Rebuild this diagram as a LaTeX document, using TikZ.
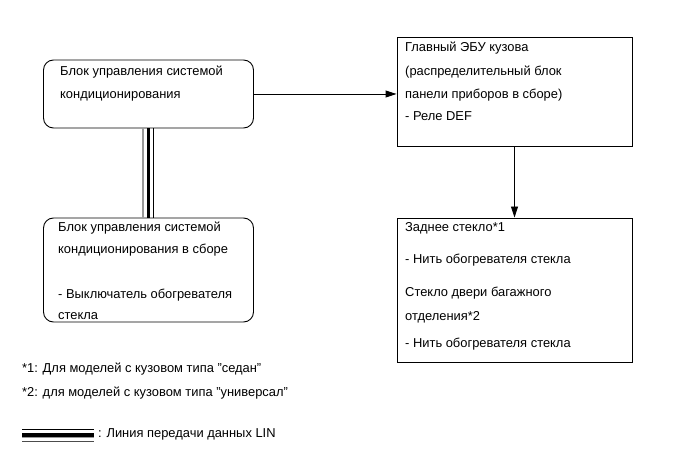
\documentclass[tikz,border=0pt]{standalone}
\usepackage{fontspec}
\setmainfont[Ligatures=NoCommon]{Liberation Sans}
\usetikzlibrary{arrows.meta}
\newcommand{\qq}{\symbol{34}}
\begin{document}
\begin{tikzpicture}[x=1bp,y=-1bp,
  box/.style={draw=black,line width=0.9bp,inner sep=0pt},
  rbox/.style={box,rounded corners=10bp},
  txt/.style={anchor=base west,inner sep=0pt,font=\fontsize{12.9bp}{15bp}\selectfont},
  arr/.style={line width=0.9bp,-{Triangle[length=11bp,width=7bp]}},
  linthin/.style={line width=1bp,black},
  linthick/.style={line width=3.5bp,black},
  lingray/.style={line width=2bp,black!40}]
\useasboundingbox (0,0) rectangle (690,467);
% boxes
\node[rbox,minimum width=210bp,minimum height=68bp] (b1) at (148.5,94) {};
\node[box,minimum width=235bp,minimum height=109bp] (b2) at (514.5,91.5) {};
\node[box,minimum width=235bp,minimum height=144bp] (b3) at (514.5,290) {};
\node[rbox,minimum width=210bp,minimum height=104bp] (b4) at (148.5,270) {};
% texts
\node[txt] (t11) at (60,76) {Блок управления системой};
\node[txt] (t12) at (60,99) {кондиционирования};
\node[txt] (t21) at (405,52) {Главный ЭБУ кузова};
\node[txt] (t22) at (405,76) {(распределительный блок};
\node[txt] (t23) at (405,99) {панели приборов в сборе)};
\node[txt] (t24) at (405,121) {- Реле DEF};
\node[txt] (t31) at (405,232) {Заднее стекло*1};
\node[txt] (t32) at (405,264) {- Нить обогревателя стекла};
\node[txt] (t33) at (405,297) {Стекло двери багажного};
\node[txt] (t34) at (405,321) {отделения*2};
\node[txt] (t35) at (405,347) {- Нить обогревателя стекла};
\node[txt] (t41) at (58,232) {Блок управления системой};
\node[txt] (t42) at (58,254) {кондиционирования в сборе};
\node[txt] (t43) at (58,299) {- Выключатель обогревателя};
\node[txt] (t44) at (58,320) {стекла};
\node[txt] (f1) at (22,372) {*1: Для моделей с кузовом типа \qq седан\qq};
\node[txt] (f2) at (22,396) {*2: для моделей с кузовом типа \qq универсал\qq};
\node[txt] (f3) at (98,437) {: Линия передачи данных LIN};
% connectors
\draw[arr] (b1.east) -- (b1.east -| b2.west);
\draw[arr] (b2.south) -- (b3.north);
\draw[lingray] ([xshift=-5.5bp]b1.south) -- ([xshift=-5.5bp]b4.north);
\draw[linthick] (b1.south) -- (b4.north);
\draw[linthin] ([xshift=5bp]b1.south) -- ([xshift=5bp]b4.north);
% legend
\coordinate (l1) at (22,435);
\coordinate (l2) at (94,435);
\draw[linthin] ([yshift=6bp]l1) -- ([yshift=6bp]l2);
\draw[line width=5bp,black!40] (l1) -- (l2);
\draw[linthick] (l1) -- (l2);
\draw[line width=1bp,black!70] ([yshift=-6.5bp]l1) -- ([yshift=-6.5bp]l2);
\end{tikzpicture}
\end{document}
